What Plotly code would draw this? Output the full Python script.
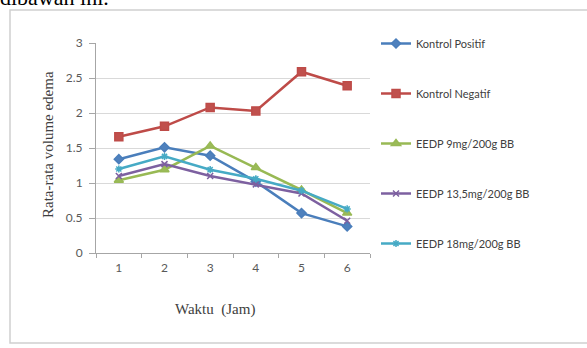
import plotly.graph_objects as go

# Observation times (hours)
waktu = ["1", "2", "3", "4", "5", "6"]

# Mean edema volume per group
kontrol_positif = [1.34, 1.51, 1.39, 1.02, 0.57, 0.38]
kontrol_negatif = [1.66, 1.81, 2.08, 2.03, 2.59, 2.39]
eedp_9 = [1.04, 1.19, 1.53, 1.22, 0.90, 0.57]
eedp_13_5 = [1.10, 1.27, 1.10, 0.98, 0.85, 0.46]
eedp_18 = [1.20, 1.38, 1.19, 1.06, 0.89, 0.63]

series = [
    ("Kontrol Positif", kontrol_positif, "#4A7EBB", "#4F81BD", "diamond", 7),
    ("Kontrol Negatif", kontrol_negatif, "#BE4B48", "#C0504D", "square", 8),
    ("EEDP 9mg/200g BB", eedp_9, "#98B954", "#9BBB59", "triangle-up", 8),
    ("EEDP 13,5mg/200g BB", eedp_13_5, "#7D60A0", "#8064A2", "x-thin", 6),
    ("EEDP 18mg/200g BB", eedp_18, "#46AAC5", "#4BACC6", "asterisk", 6),
]

W, H = 587, 348
L, R, T, B = 96, 217, 43, 95
pw, ph = W - L - R, H - T - B


def px(x):
    return (x - L) / pw


def py(y):
    return (H - B - y) / ph


fig = go.Figure()
for i, (name, vals, lc, mc, sym, sz) in enumerate(series):
    fig.add_trace(go.Scatter(
        x=waktu, y=vals, name=name, mode="lines+markers",
        legendgroup=f"g{i}",
        line=dict(color=lc, width=2.5),
        marker=dict(symbol=sym, size=sz, color=mc,
                    line=dict(color=lc, width=1.5)),
    ))

tick_font = dict(family="Lato, Liberation Sans, sans-serif", size=12, color="#595959")

fig.update_layout(
    width=W, height=H,
    margin=dict(l=L, r=R, t=T, b=B),
    paper_bgcolor="white", plot_bgcolor="white",
    showlegend=True,
    legend=dict(
        x=px(376), xanchor="left", y=py(29), yanchor="top",
        font=dict(family="Lato, Liberation Sans, sans-serif", size=11, color="#404040"),
        tracegroupgap=31, itemwidth=30, bgcolor="rgba(0,0,0,0)",
        maxheight=320,
    ),
    xaxis=dict(
        type="category", showgrid=False, zeroline=False,
        showline=True, linecolor="#A6A6A6", linewidth=1,
        ticks="outside", ticklen=4, tickcolor="#A6A6A6",
        tickson="boundaries", tickfont=tick_font, ticklabelstandoff=4,
        range=[-0.5, 5.5],
    ),
    yaxis=dict(
        range=[0, 3], dtick=0.5, showgrid=True, gridcolor="#D9D9D9", gridwidth=1,
        zeroline=False, showline=True, linecolor="#A6A6A6", linewidth=1,
        ticks="outside", ticklen=6, tickcolor="#A6A6A6",
        tickfont=tick_font, tickformat="~g", ticklabelstandoff=4,
    ),
)

# Outer chart frame
fig.add_shape(type="rect", xref="paper", yref="paper",
              x0=px(10), x1=px(600), y0=py(343), y1=py(10),
              line=dict(color="#D0D0D0", width=1.5), fillcolor="rgba(0,0,0,0)",
              layer="below")

title_font = dict(family="Liberation Serif, serif", size=15, color="#404040")

# Y axis title
fig.add_annotation(text="Rata-rata volume edema", xref="paper", yref="paper",
                   x=px(38), y=py(145), textangle=-90, showarrow=False,
                   font=title_font)

# X axis title
fig.add_annotation(text="Waktu  (Jam)", xref="paper", yref="paper",
                   x=px(215), y=py(320), showarrow=False,
                   font=title_font)

# Preceding line of body text
fig.add_annotation(text="dibawah ini.", xref="paper", yref="paper",
                   x=px(-2), y=py(12), xanchor="left", yanchor="bottom",
                   showarrow=False,
                   font=dict(family="Liberation Serif, serif", size=22, color="#000000"))

fig.write_html("out.html")
